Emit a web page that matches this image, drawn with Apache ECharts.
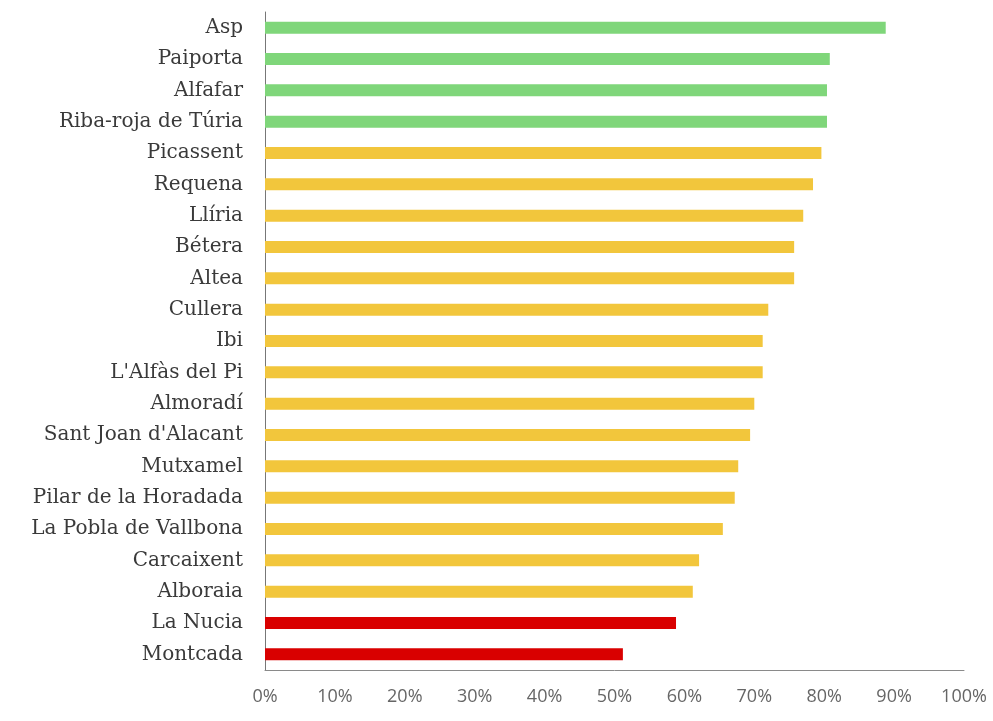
<!DOCTYPE html>
<html>
<head>
<meta charset="utf-8">
<script src="https://cdn.jsdelivr.net/npm/echarts@6/dist/echarts.min.js"></script>
<style>html,body{margin:0;padding:0;background:#fff}#c{width:993px;height:721px}</style>
</head>
<body>
<div id="c"></div>
<script>
const categories = ["Asp","Paiporta","Alfafar","Riba-roja de Túria","Picassent","Requena","Llíria","Bétera","Altea","Cullera","Ibi","L'Alfàs del Pi","Almoradí","Sant Joan d'Alacant","Mutxamel","Pilar de la Horadada","La Pobla de Vallbona","Carcaixent","Alboraia","La Nucia","Montcada"];
const values = [88.8,80.8,80.4,80.4,79.6,78.4,77.0,75.7,75.7,72.0,71.2,71.2,70.0,69.4,67.7,67.2,65.5,62.1,61.2,58.8,51.2];
const groups = ["high","high","high","high","mid","mid","mid","mid","mid","mid","mid","mid","mid","mid","mid","mid","mid","mid","mid","low","low"];
const xTicks = [0,10,20,30,40,50,60,70,80,90,100];
const groupColors = {high:"#7fd67a", mid:"#f2c63c", low:"#d90000"};

const chart = echarts.init(document.getElementById('c'));
chart.setOption({
  animation:false,
  grid:{left:265,right:29,top:12,bottom:51,containLabel:false},
  xAxis:{
    type:'value', min:xTicks[0], max:xTicks[xTicks.length-1], interval:10,
    axisLine:{show:true,lineStyle:{color:'#8a8a8a',width:1}},
    axisTick:{show:false},
    splitLine:{show:false},
    axisLabel:{formatter:'{value}%',color:'#666',fontFamily:'Open Sans',fontSize:18,margin:18}
  },
  yAxis:{
    type:'category', data:categories, inverse:true,
    axisLine:{show:true,lineStyle:{color:'#777',width:1}},
    axisTick:{show:false},
    axisLabel:{color:'#3a3a3a',fontFamily:'DejaVu Serif',fontSize:20,margin:22}
  },
  series:[{
    type:'bar', barWidth:12,
    data: values.map((v,i)=>({value:v,itemStyle:{color:groupColors[groups[i]]}}))
  }]
});
</script>
</body>
</html>
